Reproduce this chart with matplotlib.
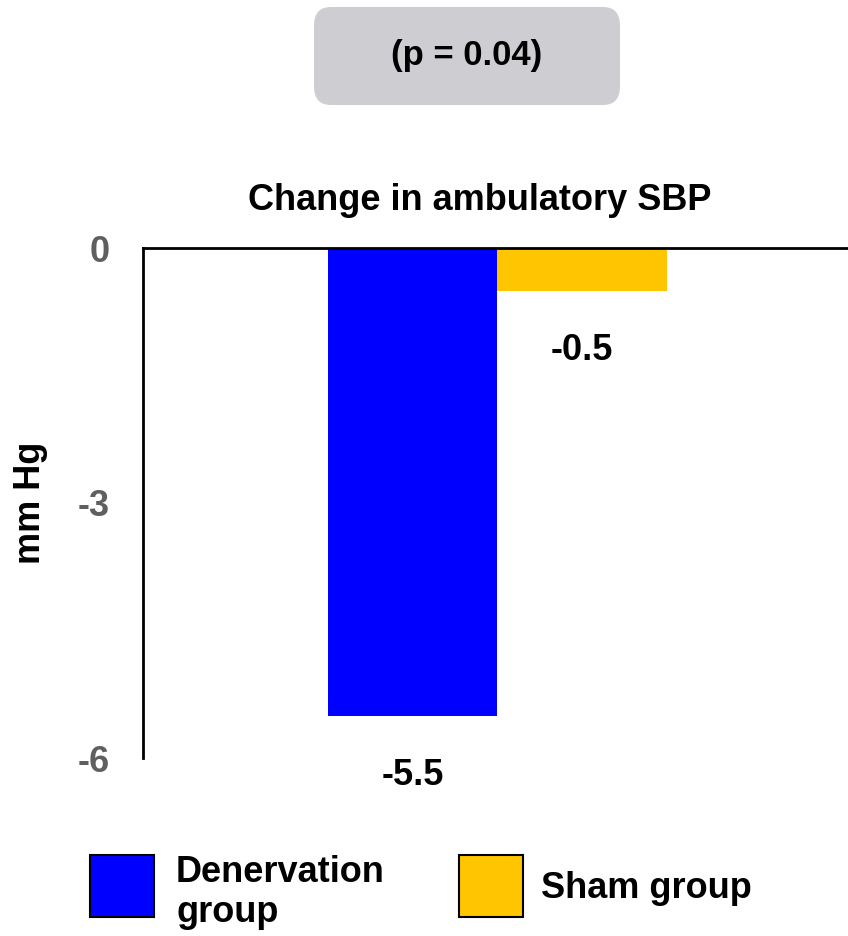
import matplotlib.pyplot as plt
from matplotlib.patches import FancyBboxPatch, Rectangle

plt.rcParams['font.family'] = ['Liberation Sans', 'DejaVu Sans']
plt.rcParams['font.weight'] = 'bold'

groups = ['Denervation\ngroup', 'Sham group']
changes = [-5.5, -0.5]
colors = ['#0000FF', '#FFC600']
yticks = [0, -3, -6]
ytick_labels = ['0', '-3', '-6']

W, H = 848, 936
FS = 26
fig = plt.figure(figsize=(W / 100, H / 100), dpi=100)
ax = fig.add_axes([143 / W, 1 - 758 / H, 1 - 143 / W, 510 / H])

xs = list(range(len(changes)))
ax.bar(xs, changes, width=1.0, color=colors, edgecolor='none')
ax.set_xlim(-1.59, 2.569)
ax.set_ylim(-6, 0)

for x, v in zip(xs, changes):
    ax.annotate(f'{v:.1f}', (x, v), xytext=(0, -43), textcoords='offset points',
                ha='center', va='center', fontsize=FS, fontweight='bold', color='black')

ax.set_yticks(yticks)
ax.set_yticklabels(ytick_labels)
ax.tick_params(axis='y', length=0, pad=24, labelsize=FS, labelcolor='#5f5f5f')
ax.set_xticks([])
for side in ['bottom', 'right']:
    ax.spines[side].set_visible(False)
ax.spines['left'].set_linewidth(2)
ax.spines['top'].set_linewidth(2)

ax.set_ylabel('mm Hg', fontsize=FS, fontweight='bold')
ax.yaxis.set_label_coords((48 - 143) / (W - 143), 0.5)

fig.text(480 / W, 1 - 200 / H, 'Change in ambulatory SBP', ha='center', va='center',
         fontsize=FS, fontweight='bold')

# p-value box
box = FancyBboxPatch((314 / W, 1 - 105 / H), (620 - 314) / W, 98 / H,
                     boxstyle='round,pad=0,rounding_size=0.02',
                     transform=fig.transFigure, facecolor='#CDCDD2', edgecolor='none')
fig.patches.append(box)
fig.text(467 / W, 1 - 55 / H, '(p = 0.04)', ha='center', va='center',
         fontsize=25, fontweight='bold')

# legend
legend_x = [90, 459]
for lx, c, g in zip(legend_x, colors, groups):
    fig.patches.append(Rectangle((lx / W, 1 - 917 / H), 64 / W, 62 / H,
                                 transform=fig.transFigure, facecolor=c,
                                 edgecolor='black', linewidth=1.5))
    if '\n' in g:
        fig.text((lx + 86) / W, 1 - 873 / H, g.split('\n')[0], ha='left', va='center',
                 fontsize=FS, fontweight='bold')
        fig.text((lx + 86) / W, 1 - 913 / H, g.split('\n')[1], ha='left', va='center',
                 fontsize=FS, fontweight='bold')
    else:
        fig.text((lx + 82) / W, 1 - 888 / H, g, ha='left', va='center',
                 fontsize=FS, fontweight='bold')

fig.savefig('out.png', dpi=100)
